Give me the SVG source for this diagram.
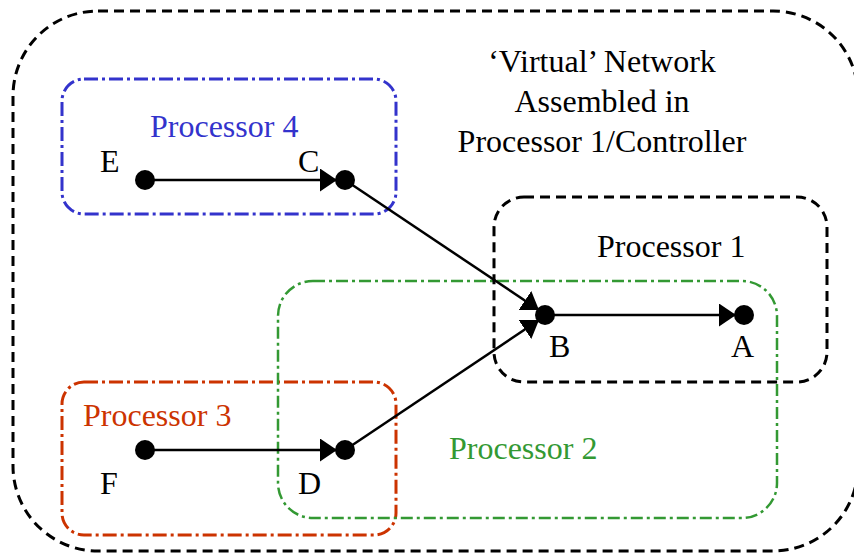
<svg xmlns="http://www.w3.org/2000/svg" width="854" height="554" viewBox="0 0 854 554">
<style>
text{font-family:"Liberation Serif","Times New Roman",serif;font-size:32px;fill:#000}
.box{fill:none}
.outer{stroke:#000;stroke-width:3;stroke-dasharray:10 6}
.p1{stroke:#000;stroke-width:3;stroke-dasharray:10 6}
.p4{stroke:#3333cc;stroke-width:3;stroke-dasharray:14 4 3 4}
.p2{stroke:#339933;stroke-width:2.5;stroke-dasharray:12 4 3 4}
.p3{stroke:#cc3300;stroke-width:3;stroke-dasharray:14 4 3 4}
.edge{stroke:#000;stroke-width:2.5;fill:none;marker-end:url(#arr)}
.node{fill:#000}
</style>
<defs>
<marker id="arr" markerUnits="userSpaceOnUse" markerWidth="17" markerHeight="23" viewBox="0 0 17 23" refX="17" refY="11.5" orient="auto">
<path d="M0,0 L17,11.5 L0,23 z" fill="#000"/>
</marker>
</defs>
<rect id="outer" class="box outer" x="13" y="11" width="845" height="540" rx="85"/>
<g id="title">
<text x="602" y="72" text-anchor="middle">‘Virtual’ Network</text>
<text x="602" y="112" text-anchor="middle">Assembled in</text>
<text x="602" y="152" text-anchor="middle">Processor 1/Controller</text>
</g>
<g id="processor4">
<rect class="box p4" x="62" y="79" width="334" height="135" rx="22"/>
<text x="150" y="137" style="fill:#3333cc">Processor 4</text>
</g>
<g id="processor3">
<rect class="box p3" x="62" y="382" width="334" height="153" rx="22"/>
<text x="83" y="426" style="fill:#cc3300">Processor 3</text>
</g>
<g id="processor2">
<rect class="box p2" x="278" y="281" width="499" height="237" rx="35"/>
<text x="449" y="459" style="fill:#339933">Processor 2</text>
</g>
<g id="processor1">
<rect class="box p1" x="494" y="197" width="333" height="185" rx="30"/>
<text x="597" y="257">Processor 1</text>
</g>
<g id="connectors">
<line class="edge" x1="145" y1="180" x2="337" y2="180"/>
<line class="edge" x1="145" y1="450" x2="337" y2="450"/>
<line class="edge" x1="545" y1="315" x2="736" y2="315"/>
<line class="edge" x1="345" y1="180" x2="539" y2="310"/>
<line class="edge" x1="345" y1="450" x2="539" y2="320"/>
</g>
<g id="E"><circle class="node" cx="145" cy="180" r="10"/><text x="100" y="172">E</text></g>
<g id="C"><circle class="node" cx="345" cy="180" r="10"/><text x="298" y="172">C</text></g>
<g id="F"><circle class="node" cx="145" cy="450" r="10"/><text x="100" y="494">F</text></g>
<g id="D"><circle class="node" cx="345" cy="450" r="10"/><text x="298" y="494">D</text></g>
<g id="B"><circle class="node" cx="545" cy="315" r="10"/><text x="549" y="357">B</text></g>
<g id="A"><circle class="node" cx="744" cy="315" r="10"/><text x="731" y="357">A</text></g>
</svg>
